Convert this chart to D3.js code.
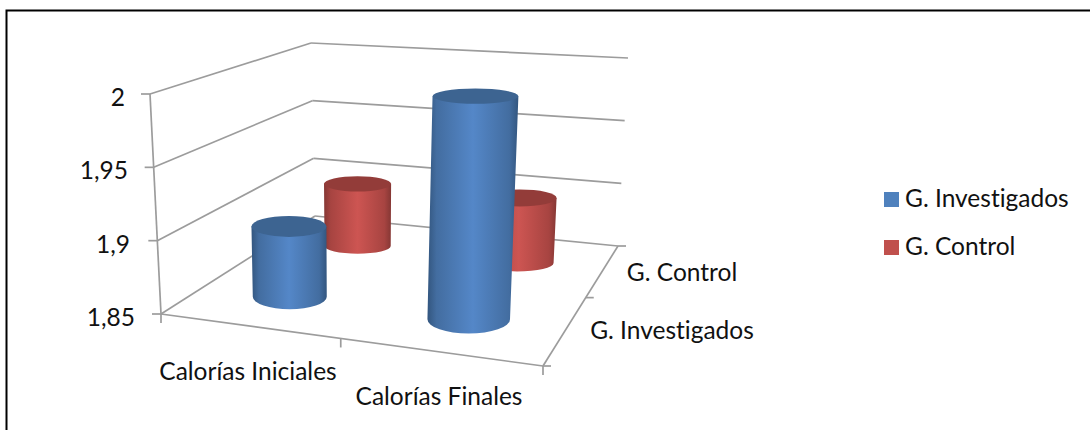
<!DOCTYPE html>
<html><head><meta charset="utf-8">
<style>html,body{margin:0;padding:0;background:#fff}svg{display:block}text{font-family:Lato,"Open Sans",sans-serif;fill:#111;font-variant-ligatures:none;font-feature-settings:"liga" 0}</style>
<script src="https://cdn.jsdelivr.net/npm/d3@7"></script></head>
<body><svg width="1090" height="430"></svg>
<script>
const categories = ["Calorías Iniciales", "Calorías Finales"];
const seriesNames = ["G. Investigados", "G. Control"];
const investigados = [1.9, 2];
const control = [1.9, 1.9];
const valueTicks = [1.85, 1.9, 1.95, 2];
const tickLabels = ["1,85", "1,9", "1,95", "2"];
const baseColors = ["#4f81bd", "#c0504d"];
const FS = 24.5;

const svg = d3.select("svg");
svg.append("path").attr("d","M6.5,430V10.5H1090").attr("fill","none").attr("stroke","#000").attr("stroke-width",2);

const floor = [[161,314],[543,366],[618,246],[315,216]];
const ceil  = [[150,94],[552,118],[628,58],[311,43]];
function homography(q){
  const [[x0,y0],[x1,y1],[x2,y2],[x3,y3]] = q;
  const dx1=x1-x2,dx2=x3-x2,sx=x0-x1+x2-x3,dy1=y1-y2,dy2=y3-y2,sy=y0-y1+y2-y3;
  const d=dx1*dy2-dx2*dy1, g=(sx*dy2-dx2*sy)/d, h=(dx1*sy-sx*dy1)/d;
  const a=x1-x0+g*x1,b=x3-x0+h*x3,c=x0,e=y1-y0+g*y1,f=y3-y0+h*y3,k=y0;
  return (u,v)=>{const w=g*u+h*v+1;return [(a*u+b*v+c)/w,(e*u+f*v+k)/w];};
}
const pf = homography(floor), pc = homography(ceil);
const zScale = d3.scaleLinear().domain([1.85,2]).range([0,1]);
const uScale = d3.scaleBand().domain(categories).range([0,1]);
const vScale = d3.scaleBand().domain(seriesNames).range([0,1]);
const P = (u,v,val)=>{const t=zScale(val),a=pf(u,v),b=pc(u,v);return [a[0]+(b[0]-a[0])*t,a[1]+(b[1]-a[1])*t];};
const line = (a,b,w=1.7,c="#9c9c9c")=>svg.append("line").attr("x1",a[0]).attr("y1",a[1]).attr("x2",b[0]).attr("y2",b[1]).attr("stroke",c).attr("stroke-width",w);

valueTicks.forEach((val,i)=>{
  line(P(0,0,val),P(0,1,val)); line(P(0,1,val),P(1,1,val));
  const p=P(0,0,val);
  line([p[0]-9,p[1]],p);
  svg.append("text").attr("x",[135,130,128,125][i]).attr("y",p[1]+12).attr("text-anchor","end").attr("font-size",FS).text(tickLabels[i]);
});
line(P(0,0,1.85),P(0,0,2));
line(P(0,0,1.85),P(1,0,1.85)); line(P(1,0,1.85),P(1,1,1.85));
[0,0.5,1].forEach(u=>{const p=P(u,0,1.85);line(p,[p[0],p[1]+9]);});
[0,0.5,1].forEach(v=>{const p=P(1,v,1.85);line(p,[p[0]+8,p[1]]);});

const defs=svg.append("defs");
const grad=(id,e,m,c)=>{const g=defs.append("linearGradient").attr("id",id);
  [[0,e],[.1,d3.interpolateRgb(e,m)(.7)],[.5,c],[.9,d3.interpolateRgb(e,m)(.7)],[1,e]].forEach(s=>g.append("stop").attr("offset",s[0]).attr("stop-color",s[1]));};
grad("gb","#33567f","#4a77ae","#5487c8");
grad("gr","#853734","#b54a47","#cd5552");
const topCol=["#3d6491","#933c39"];

const rows=[{s:1,vals:control},{s:0,vals:investigados}];
rows.forEach(row=>{
  row.vals.forEach((val,ci)=>{
    const u=uScale(categories[ci])+uScale.bandwidth()/2, v=vScale(seriesNames[row.s])+vScale.bandwidth()/2;
    const b=P(u,v,1.85), t=P(u,v,val);
    b[1]+=2; t[1]+=2;
    const span=a=>Math.hypot(P(u+.5,v,a)[0]-P(u-.5,v,a)[0],P(u+.5,v,a)[1]-P(u-.5,v,a)[1])*0.108;
    const rb=span(1.85), rt=rb*(1+0.04*zScale(val));
    const ratio=y=>row.s==1?0.23:0.105+0.00077*y;
    const ryb=rb*ratio(b[1]), ryt=rt*ratio(t[1]);
    const x0=t[0]-rt,x1=t[0]+rt,x2=b[0]+rb,x3=b[0]-rb;
    svg.append("path").attr("d",`M${x0},${t[1]}L${x3},${b[1]}A${rb},${ryb} 0 0 0 ${x2},${b[1]}L${x1},${t[1]}Z`)
      .attr("fill",`url(#${row.s?"gr":"gb"})`);
    svg.append("ellipse").attr("cx",t[0]).attr("cy",t[1]).attr("rx",rt).attr("ry",ryt).attr("fill",topCol[row.s]);
  });
});

const catPos=[[248,380],[439,405]], serPos=[[682,281],[672,339]];
categories.forEach((c,i)=>svg.append("text").attr("x",catPos[i][0]).attr("y",catPos[i][1]).attr("text-anchor","middle").attr("font-size",FS).text(c));
[...seriesNames].reverse().forEach((c,i)=>svg.append("text").attr("x",serPos[i][0]).attr("y",serPos[i][1]).attr("text-anchor","middle").attr("font-size",FS).text(c));

seriesNames.forEach((n,i)=>{
  const y=192+i*48;
  svg.append("rect").attr("x",884).attr("y",y).attr("width",15).attr("height",15).attr("fill",baseColors[i]);
  svg.append("text").attr("x",905).attr("y",y+15).attr("font-size",FS).text(n);
});
</script></body></html>
